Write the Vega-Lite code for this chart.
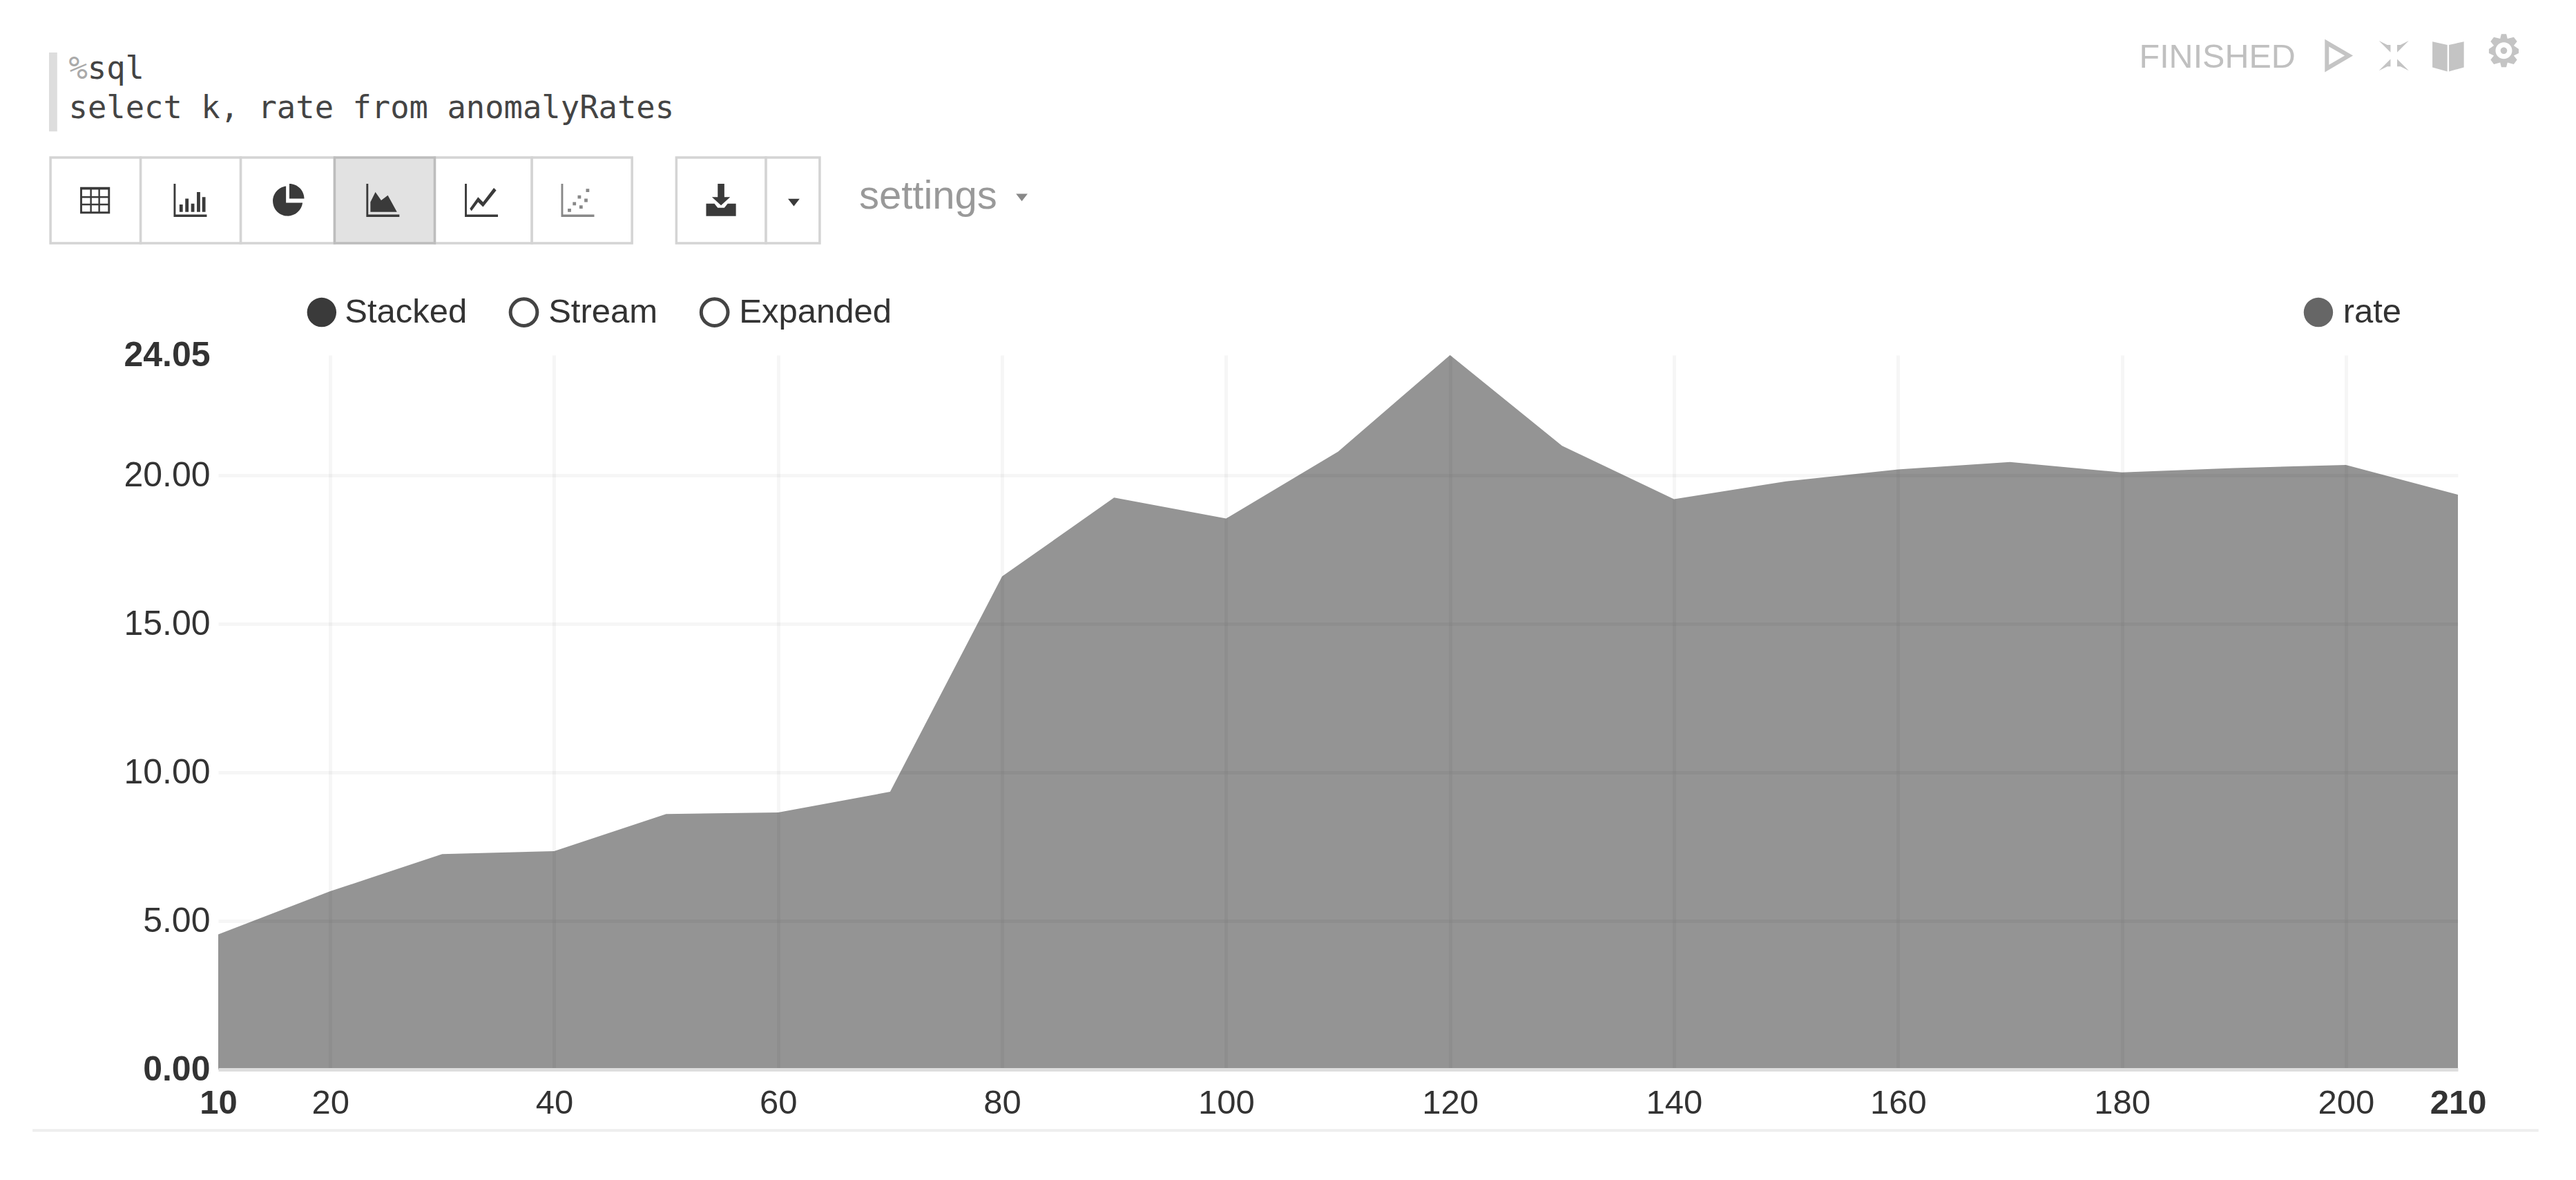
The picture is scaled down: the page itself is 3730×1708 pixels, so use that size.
{
"$schema":"https://vega.github.io/schema/vega-lite/v6.json",
"width":3243,"height":1034,
"autosize":{"type":"none"},
"padding":{"left":316,"top":514,"right":171,"bottom":160},
"background":"white",
"config":{"view":{"stroke":null},"font":"Liberation Sans"},
"layer":[
{"data":{"values":[{"k":10,"rate":4.55},{"k":20,"rate":6.0},{"k":30,"rate":7.25},{"k":40,"rate":7.35},{"k":50,"rate":8.6},{"k":60,"rate":8.65},{"k":70,"rate":9.35},{"k":80,"rate":16.6},{"k":90,"rate":19.25},{"k":100,"rate":18.55},{"k":110,"rate":20.8},{"k":120,"rate":24.05},{"k":130,"rate":21.0},{"k":140,"rate":19.2},{"k":150,"rate":19.8},{"k":160,"rate":20.2},{"k":170,"rate":20.45},{"k":180,"rate":20.1},{"k":190,"rate":20.25},{"k":200,"rate":20.35},{"k":210,"rate":19.35}]},
"mark":{"type":"area","color":"#949494","opacity":1},
"encoding":{
"x":{"field":"k","type":"quantitative","title":null,"scale":{"domain":[10,210],"nice":false,"zero":false},
"axis":{"values":[10,20,40,60,80,100,120,140,160,180,200,210],"format":"d","zindex":1,"grid":true,"gridColor":"#000","gridOpacity":{"condition":{"test":"datum.value==10||datum.value==210","value":0},"value":0.035},"gridWidth":5,"ticks":false,"domain":true,"domainColor":"#dddddd","domainWidth":5,"labelFontSize":49,"labelColor":"#333","labelPadding":24,"labelOverlap":false,"labelFlush":false,"labelBound":false,"labelFontWeight":{"condition":{"test":"datum.value==10||datum.value==210","value":"bold"},"value":"normal"}}},
"y":{"field":"rate","type":"quantitative","title":null,"scale":{"domain":[0,24.05],"nice":false,"zero":true},
"axis":{"values":[0,5,10,15,20,24.05],"format":".2f","zindex":1,"grid":true,"gridColor":"#000","gridOpacity":{"condition":{"test":"datum.value==0||datum.value==24.05","value":0},"value":0.035},"gridWidth":5,"ticks":false,"domain":false,"labelFontSize":50,"labelColor":"#333","labelPadding":12,"labelOverlap":false,"labelBound":false,"labelFontWeight":{"condition":{"test":"datum.value==0||datum.value==24.05","value":"bold"},"value":"normal"}}}
}},
{"data":{"values":[{"k":-6.58,"k2":217.2,"rate":-2.05}]},
"mark":{"type":"rule","color":"#eeeeee","strokeWidth":4},
"encoding":{"x":{"field":"k","type":"quantitative","title":null},"x2":{"field":"k2"},"y":{"field":"rate","type":"quantitative","title":null}}},
{"data":{"values":[{"k":-5.11,"k2":-4.38,"rate":34.24,"rate2":31.58}]},
"mark":{"type":"rect","color":"#dddddd"},
"encoding":{"x":{"field":"k","type":"quantitative","title":null},"x2":{"field":"k2"},"y":{"field":"rate","type":"quantitative","title":null},"y2":{"field":"rate2"}}},
{"data":{"values":[{"k":-4.98,"k2":3.07,"rate":30.7,"rate2":27.82},{"k":3.07,"k2":12.01,"rate":30.7,"rate2":27.82},{"k":12.01,"k2":20.39,"rate":30.7,"rate2":27.82},{"k":29.33,"k2":38.01,"rate":30.7,"rate2":27.82},{"k":38.01,"k2":46.95,"rate":30.7,"rate2":27.82},{"k":50.91,"k2":58.91,"rate":30.7,"rate2":27.82},{"k":58.91,"k2":63.71,"rate":30.7,"rate2":27.82}]},
"mark":{"type":"rect","fill":"white","stroke":"#d4d4d4","strokeWidth":3.5},
"encoding":{"x":{"field":"k","type":"quantitative","title":null},"x2":{"field":"k2"},"y":{"field":"rate","type":"quantitative","title":null},"y2":{"field":"rate2"}}},
{"data":{"values":[{"k":20.39,"k2":29.33,"rate":30.7,"rate2":27.82}]},
"mark":{"type":"rect","fill":"#e2e2e2","stroke":"#bdbdbd","strokeWidth":3.5},
"encoding":{"x":{"field":"k","type":"quantitative","title":null},"x2":{"field":"k2"},"y":{"field":"rate","type":"quantitative","title":null},"y2":{"field":"rate2"}}},
{"data":{"values":[
{"icon":"table","tone":"dark","k":-1.0,"rate":29.26},{"icon":"bar","tone":"dark","k":7.5,"rate":29.26},{"icon":"pie","tone":"dark","k":16.2,"rate":29.26},{"icon":"area","tone":"dark","k":24.7,"rate":29.26},{"icon":"line","tone":"dark","k":33.5,"rate":29.26},{"icon":"scatter","tone":"mid","k":42.1,"rate":29.26},{"icon":"download","tone":"dark","k":54.9,"rate":29.26},{"icon":"caret","tone":"dark","k":61.4,"rate":29.2},{"icon":"caret","tone":"mid","k":81.76,"rate":29.37},
{"icon":"play","tone":"light","k":199.3,"rate":34.13},{"icon":"compress","tone":"light","k":204.28,"rate":34.13},{"icon":"book","tone":"light","k":209.13,"rate":34.13},{"icon":"gear","tone":"light","k":214.1,"rate":34.3}]},
"mark":{"type":"point","filled":true,"size":2300,"opacity":1,"strokeWidth":0},
"encoding":{"x":{"field":"k","type":"quantitative","title":null},"y":{"field":"rate","type":"quantitative","title":null},
"color":{"field":"tone","type":"nominal","legend":null,"scale":{"domain":["dark","mid","light","legend"],"range":["#3a3a3a","#888888","#c4c4c4","#666666"]}},
"shape":{"field":"icon","type":"nominal","legend":null,"scale":{"domain":["table","bar","pie","area","line","scatter","download","caret","play","compress","book","gear"],"range":[
"M-.9-.8H.9V.8H-.9Z M-.78-.65V-.25H-.3V-.65Z M-.2-.65V-.25H.2V-.65Z M.3-.65V-.25H.78V-.65Z M-.78-.15V.2H-.3V-.15Z M-.2-.15V.2H.2V-.15Z M.3-.15V.2H.78V-.15Z M-.78.3V.68H-.3V.3Z M-.2.3V.68H.2V.3Z M.3.3V.68H.78V.3Z",
"M-1-1H-.88V.85H1V1H-1Z M-.65.7H-.45V.25H-.65Z M-.3.7H-.1V-.1H-.3Z M.05.7H.25V.2H.05Z M.4.7H.6V-.5H.4Z M.72.7H.92V-.2H.72Z",
"M-.1-.85A.9.9 0 1 0 .9.15H-.1Z M.1-1A.9.9 0 0 1 1-.1H.1Z",
"M-1-1H-.88V.85H1V1H-1Z M-.75.7V.1L-.45-.5L-.1 0L.3-.3L.85.7Z",
"M-1-1H-.88V.85H1V1H-1Z M-.7.5L-.2-.2L.1.1L.75-.75L.9-.6L.1.4L-.2.1L-.6.65Z",
"M-1-1H-.88V.85H1V1H-1Z M-.6.5H-.4V.7H-.6Z M-.3.1H-.1V.3H-.3Z M0-.3H.2V-.1H0Z M.1.3H.3V.5H.1Z M.5-.7H.7V-.5H.5Z M.4-.1H.6V.1H.4Z",
"M-.9.2H-.4L-.2.45H.2L.4.2H.9V.95H-.9Z M-.2-1H.2V-.2H.55L0 .3L-.55-.2H-.2Z",
"M-.35-.2H.35L0 .25Z",
"M-.8-1L.9 0L-.8 1Z M-.55-.55V.55L.4 0Z",
"M-.9-.9L-.2-.2V-.65H-.4Z M.9-.9L.2-.2V-.65H.4Z M-.9.9L-.2.2V.65H-.4Z M.9.9L.2.2V.65H.4Z",
"M-.95-.85L-.05-.65V.95L-.95.7Z M.95-.85L.05-.65V.95L.95.7Z",
"M-.15-1H.15L.22-.72L.6-.82L.8-.55L.6-.3L.9-.1V.15L.6.3L.8.55L.6.82L.22.72L.15 1H-.15L-.22.72L-.6.82L-.8.55L-.6.3L-.9.15V-.1L-.6-.3L-.8-.55L-.6-.82L-.22-.72Z M-.5 0A.5.5 0 0 0 .5 0A.5.5 0 0 0 -.5 0Z M-.2 0A.2.2 0 0 1 .2 0A.2.2 0 0 1 -.2 0Z"
]}}}},
{"data":{"values":[{"k":19.24,"rate":25.49,"tone":"dark"},{"k":197.54,"rate":25.49,"tone":"legend"}]},
"mark":{"type":"point","filled":true,"size":1800,"opacity":1,"shape":"circle"},
"encoding":{"x":{"field":"k","type":"quantitative","title":null},"y":{"field":"rate","type":"quantitative","title":null},
"color":{"field":"tone","type":"nominal","legend":null}}},
{"data":{"values":[{"k":37.29,"rate":25.49,"mode":"Stream"},{"k":54.32,"rate":25.49,"mode":"Expanded"}]},
"mark":{"type":"point","filled":false,"size":1500,"opacity":1,"shape":"circle","stroke":"#444444","strokeWidth":5,"fill":"white"},
"encoding":{"x":{"field":"k","type":"quantitative","title":null},"y":{"field":"rate","type":"quantitative","title":null}}},
{"data":{"values":[{"label":"Stacked","k":21.3,"rate":25.49},{"label":"Stream","k":39.49,"rate":25.49},{"label":"Expanded","k":56.52,"rate":25.49},{"label":"rate","k":199.74,"rate":25.49}]},
"mark":{"type":"text","align":"left","baseline":"middle","fontSize":49,"color":"#333333"},
"encoding":{"x":{"field":"k","type":"quantitative","title":null},"y":{"field":"rate","type":"quantitative","title":null},"text":{"field":"label"}}},
{"data":{"values":[{"label":"settings","k":67.23,"rate":29.37}]},
"mark":{"type":"text","align":"left","baseline":"middle","fontSize":58,"color":"#999999"},
"encoding":{"x":{"field":"k","type":"quantitative","title":null},"y":{"field":"rate","type":"quantitative","title":null},"text":{"field":"label"}}},
{"data":{"values":[{"label":"FINISHED","k":181.54,"rate":34.08}]},
"mark":{"type":"text","align":"left","baseline":"middle","fontSize":48.5,"color":"#c0c0c0"},
"encoding":{"x":{"field":"k","type":"quantitative","title":null},"y":{"field":"rate","type":"quantitative","title":null},"text":{"field":"label"}}},
{"data":{"values":[{"label":"%","k":-3.35,"rate":33.69}]},
"mark":{"type":"text","align":"left","baseline":"middle","fontSize":45.5,"font":"DejaVu Sans Mono","color":"#aaaaaa"},
"encoding":{"x":{"field":"k","type":"quantitative","title":null},"y":{"field":"rate","type":"quantitative","title":null},"text":{"field":"label"}}},
{"data":{"values":[{"label":"sql","k":-1.67,"rate":33.69},{"label":"select k, rate from anomalyRates","k":-3.35,"rate":32.36}]},
"mark":{"type":"text","align":"left","baseline":"middle","fontSize":45.5,"font":"DejaVu Sans Mono","color":"#444444"},
"encoding":{"x":{"field":"k","type":"quantitative","title":null},"y":{"field":"rate","type":"quantitative","title":null},"text":{"field":"label"}}}
]
}
